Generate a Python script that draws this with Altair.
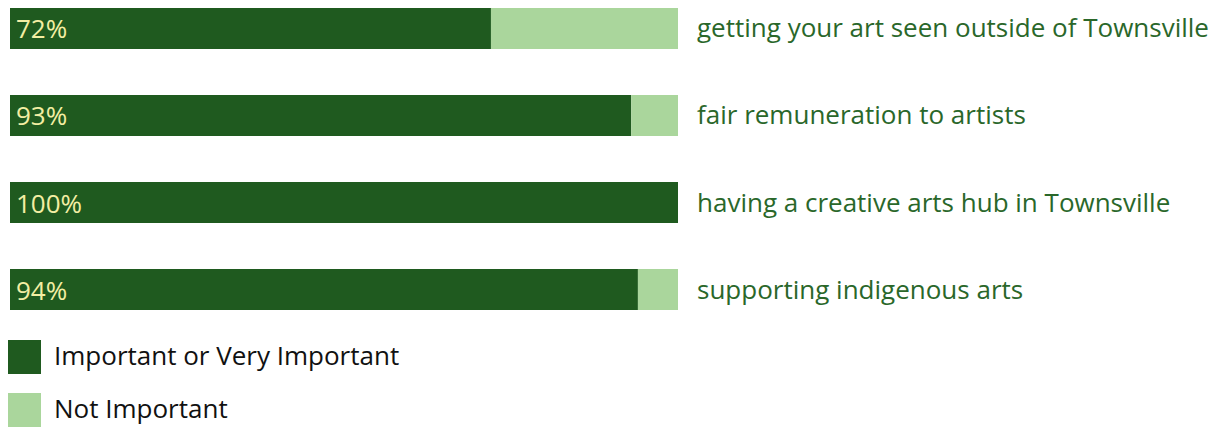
import altair as alt
import pandas as pd

categories = [
    "getting your art seen outside of Townsville",
    "fair remuneration to artists",
    "having a creative arts hub in Townsville",
    "supporting indigenous arts",
]
important = [72, 93, 100, 94]
not_important = [28, 7, 0, 6]
series = ["Important or Very Important", "Not Important"]
colors = ["#1f5a1f", "#aad69c"]

rows = []
for c, a, b in zip(categories, important, not_important):
    rows.append({"category": c, "series": series[0], "value": a, "order": 0})
    rows.append({"category": c, "series": series[1], "value": b, "order": 1})
df = pd.DataFrame(rows)

lab = pd.DataFrame({
    "category": categories,
    "pct": [f"{v}%" for v in important],
})

yenc = alt.Y(
    "category:N",
    sort=categories,
    axis=None,
    scale=alt.Scale(range=[0, 302], paddingInner=0.529, paddingOuter=0),
)

bars = alt.Chart(df).mark_bar(size=41).encode(
    x=alt.X("value:Q", stack="zero", axis=None,
            scale=alt.Scale(domain=[0, 100], range=[2, 670])),
    y=yenc,
    color=alt.Color(
        "series:N",
        scale=alt.Scale(domain=series, range=colors),
        legend=alt.Legend(
            title=None,
            orient="none",
            legendX=-1,
            legendY=332,
            symbolType="square",
            symbolSize=1156,
            symbolStrokeWidth=0,
            symbolOpacity=1,
            labelFontSize=26,
            labelFont="Open Sans",
            labelColor="#111111",
            labelOffset=13,
            rowPadding=19,
            labelLimit=600,
        ),
    ),
    order=alt.Order("order:Q"),
)

pct = alt.Chart(lab).mark_text(
    align="left", baseline="middle", font="Open Sans", fontSize=26,
    fontWeight=400, color="#f3eea3", dy=2,
).encode(
    x=alt.value(8),
    y=yenc,
    text="pct:N",
)

names = alt.Chart(lab).mark_text(
    align="left", baseline="middle", font="Open Sans", fontSize=26,
    color="#2a672a", dy=1,
).encode(
    x=alt.value(689),
    y=yenc,
    text="category:N",
)

chart = alt.layer(bars, pct, names).properties(
    width=1208,
    height=419,
    autosize=alt.AutoSizeParams(type="none"),
    padding=0,
).configure_view(stroke=None)

chart.save("out.html", embed_options={"renderer": "svg", "actions": False})
